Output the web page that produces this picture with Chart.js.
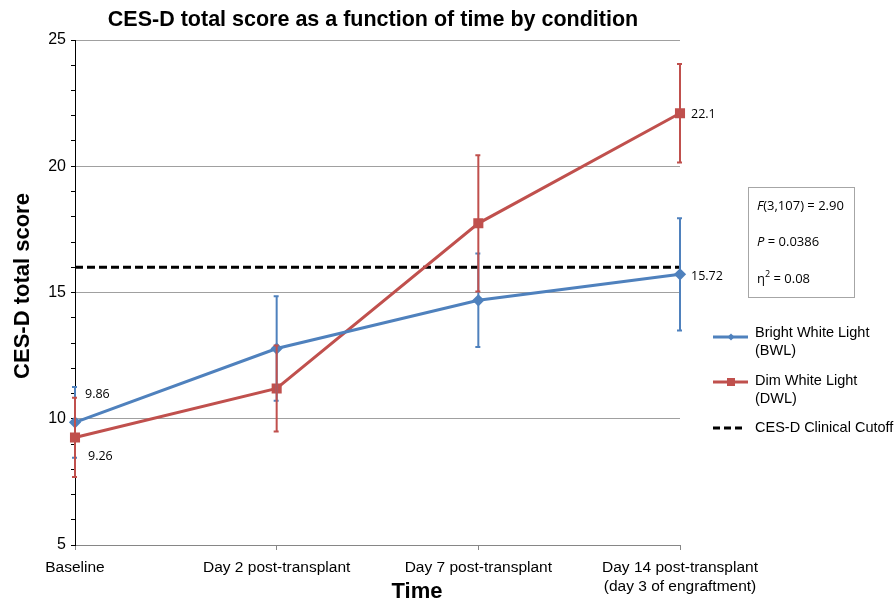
<!DOCTYPE html>
<html>
<head>
<meta charset="utf-8">
<script src="https://cdn.jsdelivr.net/npm/chart.js@4.4.1/dist/chart.umd.min.js"></script>
<style>
  html, body { margin: 0; padding: 0; background: #fff; }
  #wrap { width: 895px; height: 604px; position: relative; }
</style>
</head>
<body>
<div id="wrap"><canvas id="chart" width="895" height="604"></canvas></div>
<script>
// Chart data
const timepoints = ["Baseline", "Day 2 post-transplant", "Day 7 post-transplant",
  ["Day 14 post-transplant", "(day 3 of engraftment)"]];
const bwlMeans = [9.86, 12.78, 14.69, 15.72];
const bwlErr   = [1.40, 2.07, 1.85, 2.22];
const dwlMeans = [9.26, 11.2, 17.74, 22.1];
const dwlErr   = [1.57, 1.70, 2.70, 1.95];
const cutoff   = [16, 16, 16, 16];
const yTicks   = [5, 10, 15, 20, 25];

// point value labels shown on the figure: [dataset, index, text, dx, dy]
const valueLabels = [
  [0, 0, "9.86", 10, -28],
  [1, 0, "9.26", 13, 19],
  [1, 3, "22.1", 11, 1],
  [0, 3, "15.72", 11, 2],
];

const BLUE = "#4f81bd";
const RED = "#c0504d";

const errorBars = {
  id: "errorBars",
  afterDatasetsDraw(chart) {
    const ctx = chart.ctx;
    const y = chart.scales.y;
    const sets = [[0, bwlMeans, bwlErr, BLUE], [1, dwlMeans, dwlErr, RED]];
    ctx.save();
    sets.forEach(([di, means, errs, color]) => {
      const meta = chart.getDatasetMeta(di);
      meta.data.forEach((pt, i) => {
        const top = y.getPixelForValue(means[i] + errs[i]);
        const bot = y.getPixelForValue(means[i] - errs[i]);
        ctx.strokeStyle = color;
        ctx.lineWidth = 2;
        ctx.beginPath();
        ctx.moveTo(pt.x, top); ctx.lineTo(pt.x, bot);
        ctx.moveTo(pt.x - 3, top); ctx.lineTo(pt.x + 2, top);
        ctx.moveTo(pt.x - 3, bot); ctx.lineTo(pt.x + 2, bot);
        ctx.stroke();
      });
    });
    ctx.restore();
  },
};

const extras = {
  id: "extras",
  afterDraw(chart) {
    const ctx = chart.ctx;
    const area = chart.chartArea;
    ctx.save();
    ctx.fillStyle = "#000";

    // value labels
    ctx.font = "12.5px 'Open Sans'";
    ctx.textAlign = "left";
    ctx.textBaseline = "middle";
    valueLabels.forEach(([di, i, txt, dx, dy]) => {
      const pt = chart.getDatasetMeta(di).data[i];
      ctx.fillText(txt, pt.x + dx, pt.y + dy);
    });

    // title
    ctx.font = "bold 21.5px Arial";
    ctx.textAlign = "center";
    ctx.fillText("CES-D total score as a function of time by condition", 373, 20);

    // axis titles
    ctx.font = "bold 22px Arial";
    ctx.fillText("Time", 417, 592);
    ctx.save();
    ctx.translate(23, 286);
    ctx.rotate(-Math.PI / 2);
    ctx.font = "bold 22px Arial";
    ctx.fillText("CES-D total score", 0, 0);
    ctx.restore();

    // stats box
    ctx.strokeStyle = "#a6a6a6";
    ctx.lineWidth = 1;
    ctx.strokeRect(748.5, 187.5, 106, 110);
    ctx.textAlign = "left";
    ctx.font = "italic 13px 'Open Sans'";
    ctx.fillText("F", 757, 206);
    let w = ctx.measureText("F").width;
    ctx.font = "13px 'Open Sans'";
    ctx.fillText("(3,107) = 2.90", 757 + w, 206);
    ctx.font = "italic 13px 'Open Sans'";
    ctx.fillText("P", 757, 242);
    w = ctx.measureText("P").width;
    ctx.font = "13px 'Open Sans'";
    ctx.fillText(" = 0.0386", 757 + w, 242);
    ctx.fillText("\u03b7", 757, 279);
    w = ctx.measureText("\u03b7").width;
    ctx.font = "9px 'Open Sans'";
    ctx.fillText("2", 757 + w, 274);
    const w2 = ctx.measureText("2").width;
    ctx.font = "13px 'Open Sans'";
    ctx.fillText(" = 0.08", 757 + w + w2, 279);

    // legend
    ctx.font = "14.5px Arial";
    ctx.lineWidth = 3;
    ctx.strokeStyle = BLUE;
    ctx.beginPath(); ctx.moveTo(713, 337); ctx.lineTo(748, 337); ctx.stroke();
    ctx.fillStyle = BLUE;
    ctx.beginPath();
    ctx.moveTo(731, 333.5); ctx.lineTo(734.5, 337); ctx.lineTo(731, 340.5); ctx.lineTo(727.5, 337);
    ctx.closePath(); ctx.fill();
    ctx.strokeStyle = RED;
    ctx.beginPath(); ctx.moveTo(713, 382); ctx.lineTo(748, 382); ctx.stroke();
    ctx.fillStyle = RED;
    ctx.fillRect(727, 378, 8, 8);
    ctx.strokeStyle = "#000";
    ctx.setLineDash([7, 4]);
    ctx.beginPath(); ctx.moveTo(713, 428); ctx.lineTo(745, 428); ctx.stroke();
    ctx.setLineDash([]);
    ctx.fillStyle = "#000";
    ctx.fillText("Bright White Light", 755, 333);
    ctx.fillText("(BWL)", 755, 351);
    ctx.fillText("Dim White Light", 755, 381);
    ctx.fillText("(DWL)", 755, 399);
    ctx.fillText("CES-D Clinical Cutoff", 755, 428);
    ctx.restore();
  },
};

new Chart(document.getElementById("chart"), {
  type: "line",
  data: {
    labels: timepoints,
    datasets: [
      {
        label: "Bright White Light (BWL)",
        data: bwlMeans,
        borderColor: BLUE,
        backgroundColor: BLUE,
        borderWidth: 3,
        pointStyle: "rectRot",
        pointRadius: 4,
        tension: 0,
      },
      {
        label: "Dim White Light (DWL)",
        data: dwlMeans,
        borderColor: RED,
        backgroundColor: RED,
        borderWidth: 3,
        pointStyle: "rect",
        pointRadius: 5,
        tension: 0,
      },
      {
        label: "CES-D Clinical Cutoff",
        data: cutoff,
        borderColor: "#000",
        borderWidth: 3,
        borderDash: [8, 4],
        pointRadius: 0,
        tension: 0,
      },
    ],
  },
  options: {
    responsive: false,
    animation: false,
    layout: { padding: { top: 40, right: 215, left: 0, bottom: 0 } },
    plugins: {
      legend: { display: false },
      title: { display: false },
      tooltip: { enabled: false },
    },
    scales: {
      x: {
        offset: false,
        afterFit: (s) => { s.height = 59; },
        border: { color: "#868686", width: 1 },
        grid: { display: true, drawOnChartArea: false, color: "#868686", tickLength: 5 },
        ticks: {
          color: "#000",
          font: { family: "Arial", size: 15.5, lineHeight: 1.25 },
          maxRotation: 0,
          autoSkip: false,
          padding: 8,
        },
      },
      y: {
        min: 5,
        max: 25,
        afterFit: (s) => { s.width = 75; },
        afterBuildTicks: (s) => {
          const t = [];
          for (let v = 5; v <= 25; v++) t.push({ value: v });
          s.ticks = t;
        },
        border: { color: "#000", width: 1 },
        grid: {
          color: (c) => (yTicks.includes(c.tick.value) ? "#a0a0a0" : "rgba(0,0,0,0)"),
          tickColor: "#000",
          tickLength: 4,
        },
        ticks: {
          color: "#000",
          font: { family: "Arial", size: 16 },
          padding: 5,
          autoSkip: false,
          callback: (v) => (yTicks.includes(v) ? String(v) : ""),
        },
      },
    },
  },
  plugins: [errorBars, extras],
});
</script>
</body>
</html>
